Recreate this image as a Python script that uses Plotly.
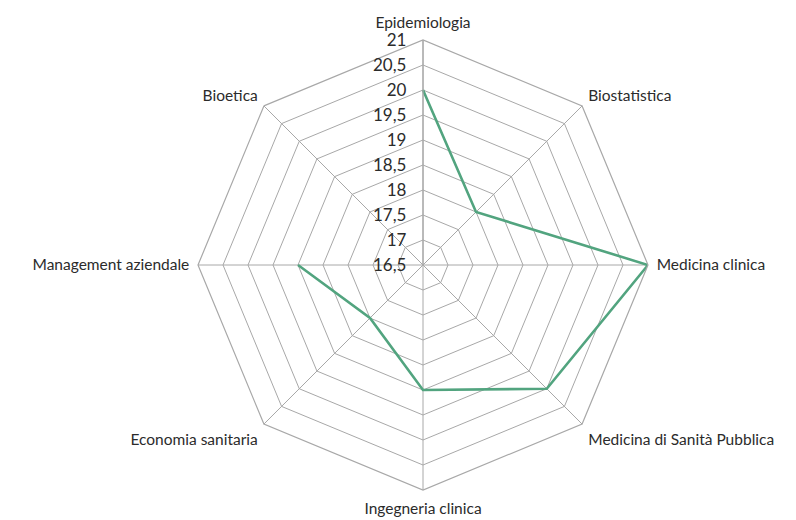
import plotly.graph_objects as go

# Punteggi per area disciplinare (Bioetica senza valore)
categorie = [
    "Epidemiologia",
    "Biostatistica",
    "Medicina clinica",
    "Medicina di Sanità Pubblica",
    "Ingegneria clinica",
    "Economia sanitaria",
    "Management aziendale",
    "Bioetica",
]
valori = [20, 18, 21, 20, 19, 18, 19, None]
tick_vals = [16.5, 17, 17.5, 18, 18.5, 19, 19.5, 20, 20.5, 21]

fig = go.Figure(
    go.Scatterpolar(
        r=valori,
        theta=categorie,
        mode="lines",
        line=dict(color="#52a47f", width=2.6),
        connectgaps=False,
        showlegend=False,
        hoverinfo="skip",
    )
)

cx, cy, rad = 423, 265, 225
W, H = 796, 520

fig.update_layout(
    width=W,
    height=H,
    margin=dict(l=0, r=0, t=0, b=0),
    paper_bgcolor="white",
    separators=",.",
    font=dict(family="Lato, Open Sans, sans-serif", size=16, color="#2b2b2b"),
    polar=dict(
        domain=dict(
            x=[(cx - rad) / W, (cx + rad) / W],
            y=[(H - cy - rad) / H, (H - cy + rad) / H],
        ),
        bgcolor="white",
        gridshape="linear",
        angularaxis=dict(
            rotation=90,
            direction="clockwise",
            categoryorder="array",
            categoryarray=categorie,
            showline=True,
            linecolor="#a8a8a8",
            linewidth=1.2,
            gridcolor="#a8a8a8",
            gridwidth=1.2,
            ticks="outside",
            ticklen=5,
            tickcolor="rgba(0,0,0,0)",
            tickfont=dict(size=15.5, color="#2b2b2b"),
        ),
        radialaxis=dict(
            range=[16.5, 21],
            tickvals=tick_vals,
            ticktext=[f"{v:g}".replace(".", ",") for v in tick_vals],
            angle=90,
            tickangle=90,
            side="counterclockwise",
            showline=True,
            linecolor="#a8a8a8",
            linewidth=1.2,
            gridcolor="#a8a8a8",
            gridwidth=1.2,
            ticks="outside",
            ticklen=10,
            tickcolor="rgba(0,0,0,0)",
            tickfont=dict(size=17, color="#2b2b2b"),
        ),
    ),
)

fig.write_html("out.html")
